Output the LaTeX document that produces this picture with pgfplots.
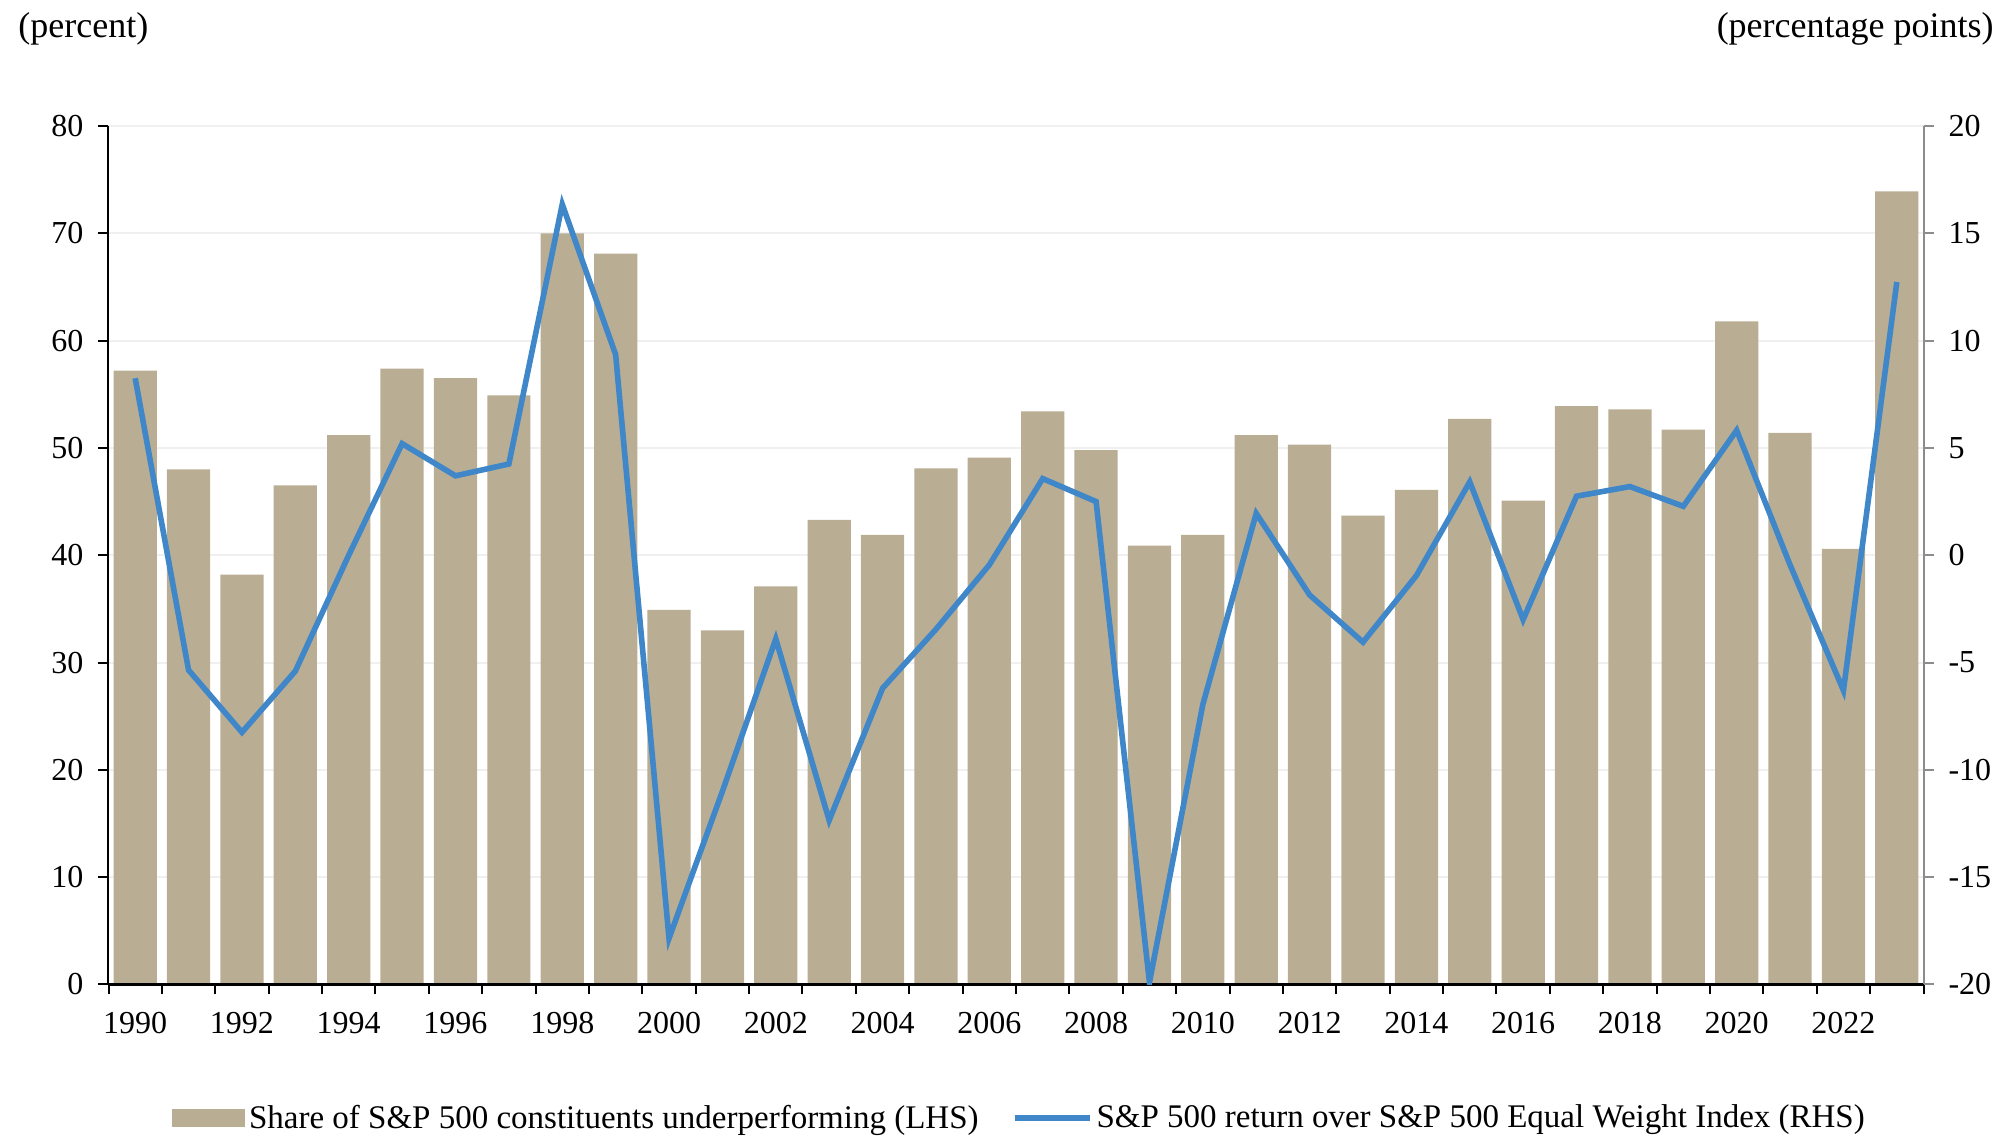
\documentclass[border=0pt]{standalone}
\usepackage{fontspec}
\setmainfont{Liberation Serif}
\usepackage{pgfplots}
\pgfplotsset{compat=1.18}
\definecolor{barcol}{HTML}{B9AE94}
\definecolor{linecol}{HTML}{3F87C8}
\definecolor{gridcol}{HTML}{F0F0F0}
\definecolor{raxcol}{HTML}{8C8C8C}

\pgfplotstableread{
x  share  ret
0  57.2   8.25
1  48.0  -5.35
2  38.2  -8.25
3  46.5  -5.4
4  51.2   0.0
5  57.4   5.2
6  56.5   3.7
7  54.9   4.25
8  70.0  16.35
9  68.1   9.35
10 34.9 -17.85
11 33.0 -11.0
12 37.1  -3.9
13 43.3 -12.35
14 41.9  -6.2
15 48.1  -3.45
16 49.1  -0.45
17 53.4   3.57
18 49.8   2.5
19 40.9 -19.9
20 41.9  -6.95
21 51.2   1.95
22 50.3  -1.85
23 43.7  -4.05
24 46.1  -0.95
25 52.7   3.42
26 45.1  -3.0
27 53.9   2.75
28 53.6   3.2
29 51.7   2.28
30 61.8   5.82
31 51.4  -0.45
32 40.6  -6.3
33 73.9  12.73
}\datatable

\begin{document}
\begin{tikzpicture}
\path[use as bounding box] (0,0) rectangle (1001pt,571.5pt);
\node[anchor=west, inner sep=0pt, font=\fontsize{18}{21}\selectfont] at (9pt,557pt) {(percent)};
\node[anchor=east, inner sep=0pt, font=\fontsize{18}{21}\selectfont] at (997pt,557pt) {(percentage points)};

\pgfplotsset{
  every axis/.append style={
    scale only axis,
    width=907.5pt, height=429.25pt,
    at={(54.25pt,79.25pt)}, anchor=south west,
    xmin=-0.5, xmax=33.5,
    tick label style={font=\fontsize{16}{19}\selectfont},
    /pgf/number format/assume math mode=true,
    major tick length=5pt,
    tick align=outside,
  }
}

% Bars, left axis
\begin{axis}[
  axis x line=none,
  axis y line*=left,
  ymin=0, ymax=80,
  ytick={0,10,...,80},
  ymajorgrids,
  grid style={gridcol, line width=1pt},
  y axis line style={black, line width=1pt},
  ytick style={black, line width=1pt},
  yticklabel style={xshift=-4pt},
]
\addplot[ybar, bar width=0.81, fill=barcol, draw=none] table[x=x, y=share] {\datatable};
\end{axis}

% Line, right axis
\begin{axis}[
  axis x line*=bottom,
  axis y line*=right,
  ymin=-20, ymax=20,
  ytick={-20,-15,...,20},
  y axis line style={raxcol, line width=1pt},
  ytick style={raxcol, line width=1pt},
  x axis line style={black, line width=1.2pt},
  xtick={-0.5,0.5,...,33.5},
  xticklabels={},
  xtick style={black, line width=1pt},
  extra x ticks={0,2,...,32},
  extra x tick labels={1990,1992,1994,1996,1998,2000,2002,2004,2006,2008,2010,2012,2014,2016,2018,2020,2022},
  extra x tick style={tick style={draw=none}, grid=none, xticklabel style={yshift=-5.5pt}},
  yticklabel style={xshift=4pt},
  legend columns=2,
  legend style={draw=none, fill=none, at={(0.5025,-0.1555)}, anchor=center,
    font=\fontsize{16.5}{20}\selectfont,
    /tikz/every even column/.append style={column sep=14.5pt}},
]
\addlegendimage{legend image code/.code={\fill[barcol] (0pt,-4.25pt) rectangle (36pt,4.25pt);}}
\addlegendentry{Share of S\&P 500 constituents underperforming (LHS)}
\addplot[linecol, line width=2.8pt, mark=none,
  legend image code/.code={\draw[linecol, line width=3pt] (0pt,0pt) -- (37.5pt,0pt);}]
  table[x=x, y=ret] {\datatable};
\addlegendentry{S\&P 500 return over S\&P 500 Equal Weight Index (RHS)}
\end{axis}
\end{tikzpicture}
\end{document}
